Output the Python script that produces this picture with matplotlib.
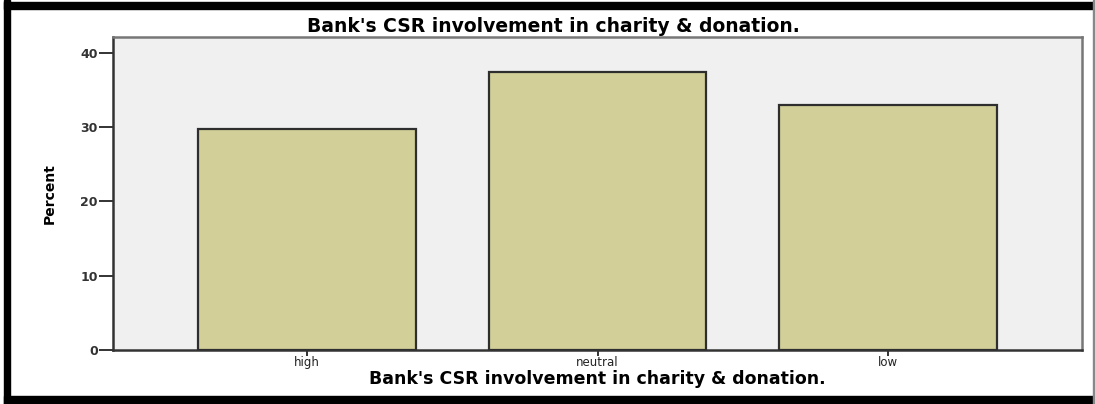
import matplotlib.pyplot as plt
from matplotlib.patches import Rectangle

# data
categories = ["high", "neutral", "low"]
percent = [29.7, 37.4, 33.0]
y_ticks = [0, 10, 20, 30, 40]
title = "Bank's CSR involvement in charity & donation."

W, H = 1095, 404
fig = plt.figure(figsize=(W / 100, H / 100), dpi=100)
fig.patch.set_facecolor("white")

# axes placement in pixels
left, right, top, bottom = 113, 1082, 37, 350
ax = fig.add_axes([left / W, (H - bottom) / H, (right - left) / W, (bottom - top) / H])
ax.set_facecolor("#f0f0f0")

x = range(len(categories))
ax.bar(x, percent, width=0.75, color="#d3cf98", edgecolor="#2e2e2e", linewidth=1.6, zorder=3)

ax.set_xlim(-0.669, 2.669)
ax.set_ylim(0, 42.15)
ax.set_xticks(list(x))
ax.set_xticklabels(categories, fontsize=8.5, color="#222222", family="DejaVu Sans")
ax.set_yticks(y_ticks)
ax.set_yticklabels([str(t) for t in y_ticks], fontsize=9, color="#333333",
                   family="DejaVu Sans", fontweight="bold")
ax.tick_params(axis="y", length=10, width=1.4, color="#333333", pad=1)
ax.tick_params(axis="x", length=4, width=1.4, color="#333333", pad=0)

for side in ["left", "bottom"]:
    ax.spines[side].set_color("#333333")
    ax.spines[side].set_linewidth(1.8)
for side in ["top", "right"]:
    ax.spines[side].set_color("#777777")
    ax.spines[side].set_linewidth(1.8)

ax.set_xlabel(title, fontsize=12.5, fontweight="bold", family="DejaVu Sans", labelpad=1)
ax.set_ylabel("Percent", fontsize=10, fontweight="bold", family="DejaVu Sans", labelpad=17)
fig.text(553 / W, (H - 26) / H, title, ha="center", va="center",
         fontsize=13.5, fontweight="bold", family="DejaVu Sans")

# outer picture border
fig.patches.append(Rectangle((4 / W, 0), 6 / W, 1, transform=fig.transFigure,
                             color="black", zorder=10))
fig.patches.append(Rectangle((4 / W, (H - 9) / H), 1 - 4 / W, 7 / H, transform=fig.transFigure,
                             color="black", zorder=10))
fig.patches.append(Rectangle((4 / W, 0), 1 - 4 / W, 8 / H, transform=fig.transFigure,
                             color="black", zorder=10))
fig.patches.append(Rectangle((1093 / W, 0), 1.5 / W, 1, transform=fig.transFigure,
                             color="#888888", zorder=10))

fig.savefig("out.png", dpi=100)
